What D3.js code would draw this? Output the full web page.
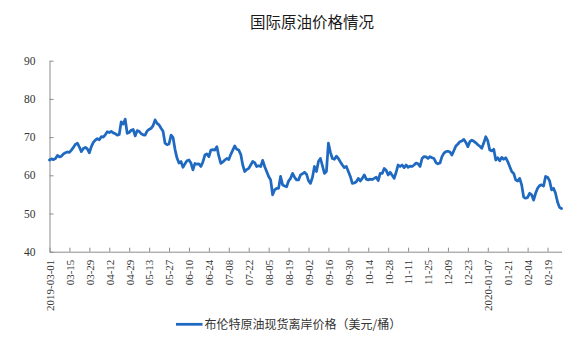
<!DOCTYPE html>
<html>
<head>
<meta charset="utf-8">
<script src="https://cdn.jsdelivr.net/npm/d3@7"></script>
<style>
  html, body { margin: 0; padding: 0; background: #fff; }
  svg { display: block; }
</style>
</head>
<body>
<svg id="chart" width="577" height="346"></svg>
<script>
const title = "国际原油价格情况";
const seriesName = "布伦特原油现货离岸价格（美元/桶）";
const tickLabels = ["2019-03-01","03-15","03-29","04-12","04-29","05-13","05-27","06-10","06-24","07-08","07-22","08-05","08-19","09-02","09-16","09-30","10-14","10-28","11-11","11-25","12-09","12-23","2020-01-07","01-21","02-04","02-19"];
const tickStep = 10;
const yTicks = [40, 50, 60, 70, 80, 90];
const brent = [
64.0,64.3,64.1,64.4,65.2,64.8,65.0,65.6,65.9,66.1,
66.0,66.6,67.3,68.1,68.4,67.4,66.2,67.0,67.3,66.9,
65.9,67.5,68.6,69.2,69.6,69.3,70.1,70.0,70.6,71.4,
71.2,71.5,71.1,70.9,70.5,70.7,74.0,73.4,74.7,71.0,
71.2,71.8,72.0,70.3,71.7,71.5,70.9,70.6,70.5,71.6,
72.0,72.3,73.0,74.5,73.6,73.2,72.3,71.5,68.4,68.0,
68.2,70.5,69.9,66.8,64.5,63.2,63.6,62.1,63.0,63.8,
64.0,63.2,61.4,63.1,62.9,63.0,62.3,63.5,65.3,65.6,
64.9,66.6,66.7,66.6,67.5,65.0,63.1,63.5,64.0,64.4,
64.1,65.5,66.6,67.7,66.8,66.6,65.5,62.7,61.0,61.5,
61.8,62.7,63.6,63.3,62.3,62.5,62.3,63.9,62.3,61.0,
59.7,58.8,54.9,56.2,56.6,56.6,59.7,57.5,57.2,57.0,
58.5,59.2,60.5,59.5,58.8,58.8,60.1,60.4,60.8,60.3,
58.6,57.9,59.5,62.3,61.0,63.6,64.4,62.5,60.5,61.0,
68.4,66.0,64.4,64.2,65.0,64.4,63.5,62.7,62.0,62.3,
61.0,59.7,57.9,58.0,58.3,59.2,58.5,59.2,60.1,59.0,
58.8,59.0,58.9,59.2,59.5,58.6,60.5,60.5,61.8,61.3,
60.1,60.8,60.0,59.2,60.8,62.7,62.3,62.7,62.0,62.7,
62.1,62.4,62.3,62.7,63.2,63.0,62.3,64.4,64.9,64.8,
64.4,64.9,64.6,64.4,63.3,63.0,63.2,64.9,65.8,66.2,
66.3,66.1,65.3,66.5,67.7,68.2,68.8,69.0,69.4,68.6,
67.5,68.8,69.2,68.9,68.5,68.0,67.6,67.1,68.5,70.1,
69.0,66.6,66.4,66.8,64.0,64.6,63.8,64.7,64.2,64.6,
63.6,62.3,61.0,60.5,58.8,58.5,59.2,57.5,54.3,54.0,
54.2,55.3,54.9,53.5,55.3,56.6,57.3,57.5,57.2,59.7,
59.5,58.6,56.2,56.6,55.3,53.0,51.6,51.3
];

const svg = d3.select("#chart");
const W = 577, H = 346;
const m = { left: 49.5, right: 15.5, top: 60.7, bottom: 94.3 };
const x = d3.scaleLinear().domain([0, brent.length - 1]).range([m.left, W - m.right]);
const y = d3.scaleLinear().domain([40, 90]).range([H - m.bottom, m.top]);
const axisColor = "#8c8c8c";
const lineColor = "#1f69c1";
const serif = "'Liberation Serif','Times New Roman',serif";
const cjk = "'Noto Sans CJK SC','Noto Sans',sans-serif";

// title
svg.append("text").attr("x", 312).attr("y", 22.5).attr("dy", "0.35em")
  .attr("text-anchor", "middle").attr("font-family", cjk).attr("font-size", 15.5)
  .attr("fill", "#1a1a1a").text(title);

// y axis
const gy = svg.append("g").attr("transform", `translate(${m.left},0)`)
  .call(d3.axisLeft(y).tickValues(yTicks).tickSizeInner(-4).tickSizeOuter(0).tickPadding(14));
gy.selectAll("path,line").attr("stroke", axisColor);
gy.selectAll("text").attr("font-family", serif).attr("font-size", 11.5).attr("fill", "#333");

// x axis
const tickIdx = tickLabels.map((d, i) => i * tickStep);
const gx = svg.append("g").attr("transform", `translate(0,${y(40)})`)
  .call(d3.axisBottom(x).tickValues(tickIdx).tickSizeInner(-4).tickSizeOuter(0)
    .tickFormat((d, i) => tickLabels[i]));
gx.selectAll("path,line").attr("stroke", axisColor);
gx.selectAll("text")
  .attr("font-family", serif).attr("font-size", 11).attr("fill", "#333")
  .attr("transform", "rotate(-90)")
  .attr("text-anchor", "end")
  .attr("x", -8).attr("y", 0).attr("dy", "0.35em");

// line
const line = d3.line().x((d, i) => x(i)).y(d => y(d)).curve(d3.curveLinear);
svg.append("path").datum(brent).attr("d", line)
  .attr("fill", "none").attr("stroke", lineColor).attr("stroke-width", 2.75)
  .attr("stroke-linejoin", "round").attr("stroke-linecap", "round");

// legend
const lg = svg.append("g").attr("transform", "translate(176,324.3)");
lg.append("line").attr("x1", 0).attr("x2", 26.5).attr("y1", 0).attr("y2", 0)
  .attr("stroke", lineColor).attr("stroke-width", 2.75);
lg.append("text").attr("x", 28.5).attr("y", 0).attr("dy", "0.35em")
  .attr("font-family", cjk).attr("font-size", 12).attr("fill", "#333").text(seriesName);
</script>
</body>
</html>
